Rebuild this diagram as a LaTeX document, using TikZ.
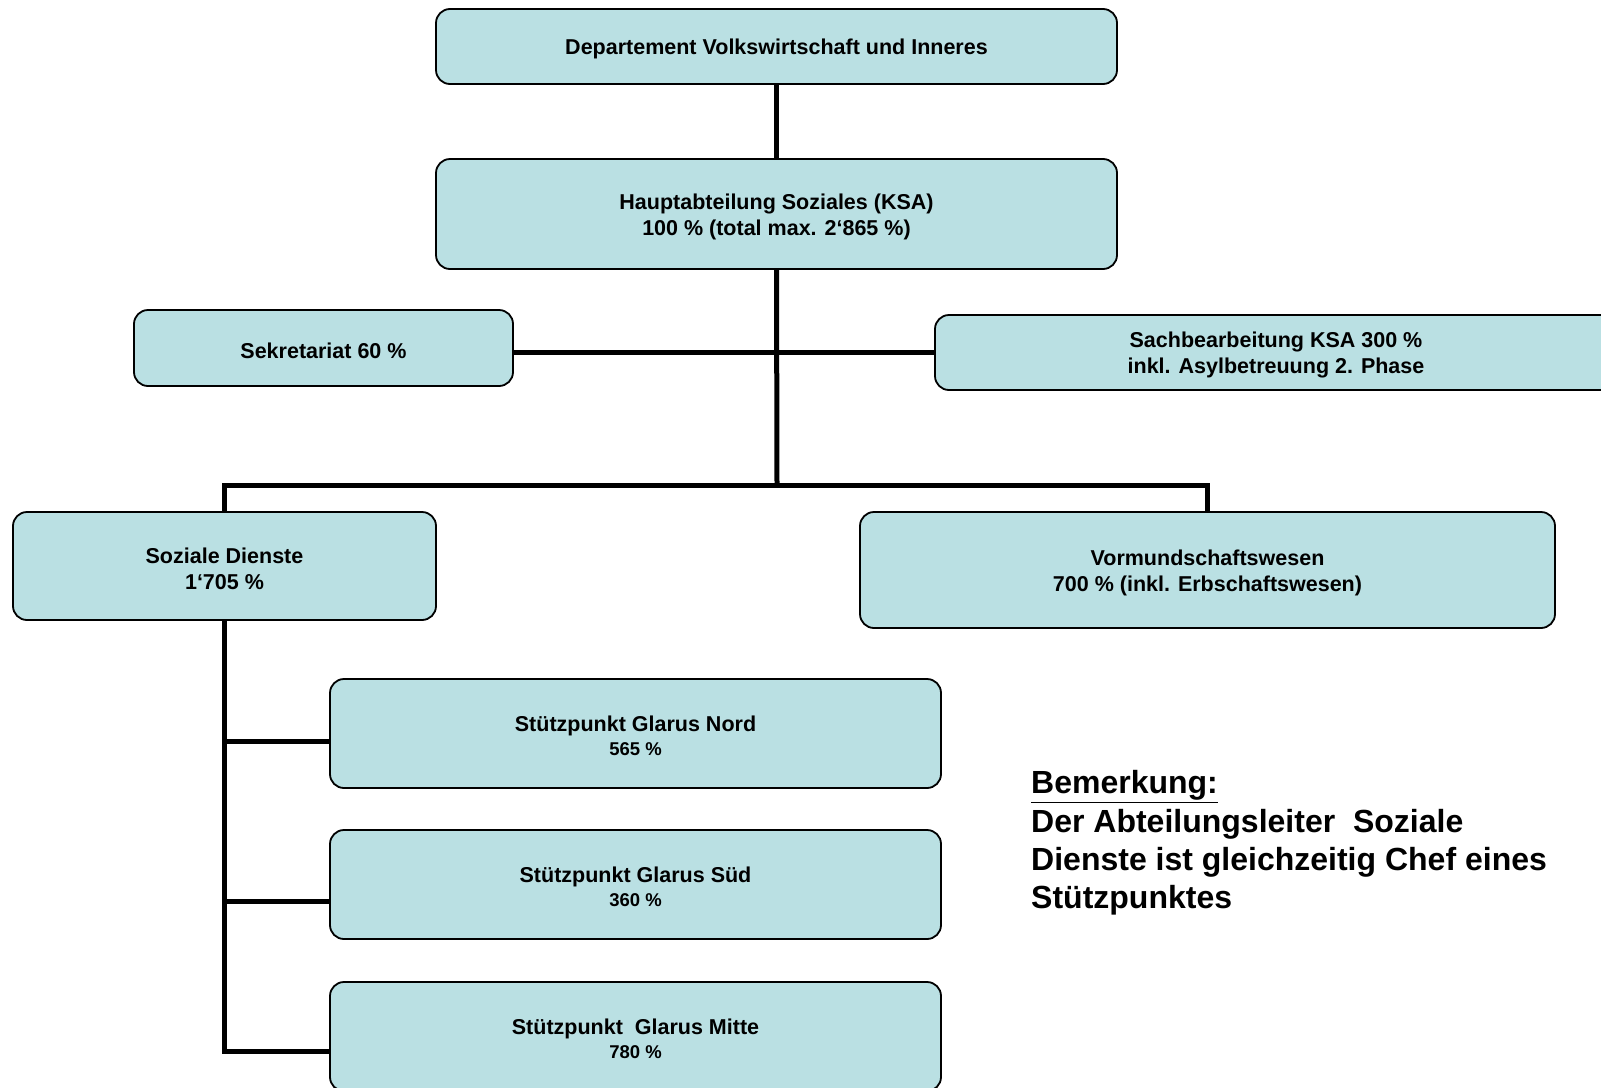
\documentclass[tikz,border=0pt]{standalone}
\usepackage{fontspec}
\setmainfont{Liberation Sans}
\definecolor{boxfill}{RGB}{186,224,227}
\begin{document}
\begin{tikzpicture}[x=1pt,y=-1pt,
  orgbox/.style={draw=black, line width=1.8pt, fill=boxfill, rounded corners=14pt,
    inner sep=0pt},
  boxlbl/.style={inner sep=0pt, align=center, yshift=-2.5pt,
    font=\bfseries\fontsize{21.5}{26}\selectfont},
  conn/.style={line width=5pt, line cap=butt}]
\clip (0,0) rectangle (1601,1087);
\fill[white] (0,0) rectangle (1601,1087);
\node[orgbox, minimum width=681pt, minimum height=75pt,
  label={[boxlbl]center:{Departement Volkswirtschaft und Inneres}}] (dep) at (776.5,46.5) {};
\node[orgbox, minimum width=681pt, minimum height=110pt,
  label={[boxlbl]center:{Hauptabteilung Soziales (KSA)\\100 \% (total max. 2‘865 \%)}}] (haupt) at (776.5,214) {};
\node[orgbox, minimum width=379pt, minimum height=76pt,
  label={[boxlbl]center:{Sekretariat 60 \%}}] (sek) at (323.5,348) {};
\node[orgbox, minimum width=682pt, minimum height=75pt,
  label={[boxlbl]center:{Sachbearbeitung KSA 300 \%\\inkl. Asylbetreuung 2. Phase}}] (sach) at (1276,352.5) {};
\node[orgbox, minimum width=423pt, minimum height=108pt,
  label={[boxlbl]center:{Soziale Dienste\\1‘705 \%}}] (sd) at (224.5,566) {};
\node[orgbox, minimum width=695pt, minimum height=116pt,
  label={[boxlbl]center:{Vormundschaftswesen\\700 \% (inkl. Erbschaftswesen)}}] (vm) at (1207.5,570) {};
\node[orgbox, minimum width=611pt, minimum height=109pt,
  label={[boxlbl]center:{Stützpunkt Glarus Nord\\[-2pt]{\fontsize{18.5}{22}\selectfont 565 \%}}}] (nord) at (635.5,733.5) {};
\node[orgbox, minimum width=611pt, minimum height=109pt,
  label={[boxlbl]center:{Stützpunkt Glarus Süd\\[-2pt]{\fontsize{18.5}{22}\selectfont 360 \%}}}] (sued) at (635.5,884.5) {};
\node[orgbox, minimum width=611pt, minimum height=109pt,
  label={[boxlbl]center:{Stützpunkt\ \ Glarus Mitte\\[-2pt]{\fontsize{18.5}{22}\selectfont 780 \%}}}] (mitte) at (635.5,1036.5) {};
\node[anchor=west, align=left, inner sep=0pt, font=\bfseries\fontsize{32}{38.4}\selectfont] (note) at (1031,843)
  {\underline{Bemerkung:}\\Der Abteilungsleiter\ \ Soziale\\Dienste ist gleichzeitig Chef eines\\Stützpunktes};
\coordinate (j1) at (777,485);
\draw[conn] (dep.south) -- (haupt.north);
\draw[conn] (haupt.south) -- (j1);
\draw[conn] (sek.east |- sach.west) -- (sach.west);
\draw[conn] (sd.north) -- (sd.north |- j1) -- (vm.north |- j1) -- (vm.north);
\draw[conn] (sd.south) -- (sd.south |- 0,1051) -- (mitte.west |- 0,1051);
\draw[conn] (sd.south |- 0,741) -- (nord.west |- 0,741);
\draw[conn] (sd.south |- 0,901) -- (sued.west |- 0,901);
\end{tikzpicture}
\end{document}
